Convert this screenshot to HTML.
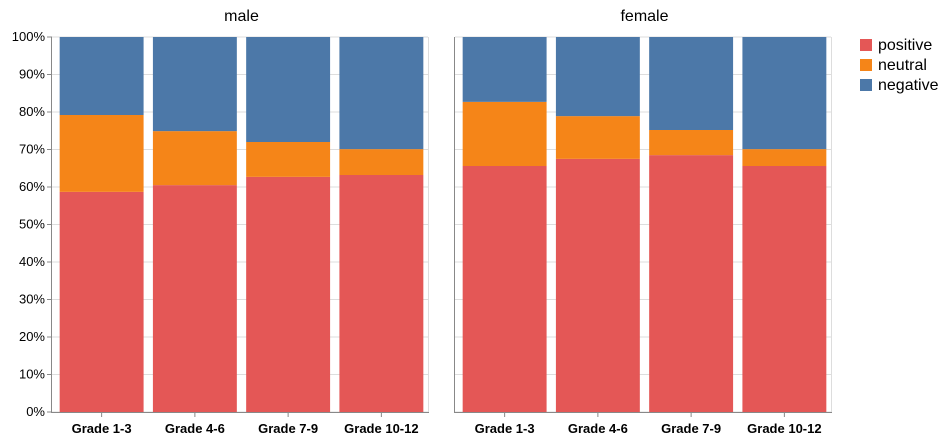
<!DOCTYPE html>
<html><head><meta charset="utf-8"><style>
body{margin:0;background:#fff;}
text{font-family:"Liberation Sans",Arial,sans-serif;}
</style></head><body>
<svg id="chart" width="951" height="442" xmlns="http://www.w3.org/2000/svg"></svg>
<script>
const categories=["Grade 1-3","Grade 4-6","Grade 7-9","Grade 10-12"];
const panels=["male","female"];
const malePositive=[58.7,60.5,62.7,63.2];
const maleNeutral=[20.5,14.4,9.3,6.9];
const femalePositive=[65.6,67.5,68.5,65.6];
const femaleNeutral=[17.1,11.4,6.7,4.5];
const yTicks=[0,10,20,30,40,50,60,70,80,90,100];
const seriesNames=["positive","neutral","negative"];
const colors={positive:"#e45756",neutral:"#f58518",negative:"#4c78a8"};

const NS="http://www.w3.org/2000/svg";
const svg=document.getElementById('chart');
function mk(tag,attrs,parent){const e=document.createElementNS(NS,tag);for(const k in attrs)e.setAttribute(k,attrs[k]);(parent||svg).appendChild(e);return e;}
const y0=412,y1=37,panelW=373,panelX=[55,458];
function y(v){return y0-(v/100)*(y0-y1);}
function xBand(p,i){return panelX[p]+i*panelW/categories.length;}
const data=[[malePositive,maleNeutral],[femalePositive,femaleNeutral]];

panels.forEach((name,p)=>{
  const g=mk('g',{});
  
  
  yTicks.forEach(t=>{
    const l=mk('line',{x1:panelX[p]-3,x2:panelX[p]+panelW,y1:y(t),y2:y(t),stroke:'#ddd','stroke-width':1},g);
    
    
  });
  const bw=panelW/categories.length;
  categories.forEach((c,i)=>{
    const pos=data[p][0][i],neu=data[p][1][i];
    const segs=[["positive",0,pos],["neutral",pos,pos+neu],["negative",pos+neu,100]];
    segs.forEach(s=>{
      const r=mk('rect',{x:xBand(p,i)+bw*0.05,width:bw*0.9,y:y(s[2]),height:y(s[1])-y(s[2]),fill:colors[s[0]]},g);
      
      
    });
    const t=mk('text',{x:xBand(p,i)+bw/2,y:433,'text-anchor':'middle','font-size':13,'font-weight':'bold',fill:'#000'},g);
    t.textContent=c;
    
    
    const tk=mk('line',{x1:xBand(p,i)+bw/2,x2:xBand(p,i)+bw/2,y1:y0,y2:y0+5,stroke:'#888'},g);
    
    
  });
  const ax=mk('line',{x1:panelX[p]-4,x2:panelX[p]+panelW+1,y1:y0+0.5,y2:y0+0.5,stroke:'#888'},g);
  
  
  const ax2=mk('line',{x1:panelX[p]-3.5,x2:panelX[p]-3.5,y1:y1,y2:y0,stroke:'#888'},g);
  
  
  const ax3=mk('line',{x1:panelX[p]+panelW+0.5,x2:panelX[p]+panelW+0.5,y1:y1,y2:y0,stroke:'#ddd'},g);
  
  
  const ti=mk('text',{x:panelX[p]+panelW/2,y:21,'text-anchor':'middle','font-size':16,fill:'#000'},g);
  ti.textContent=name;
  
  
});
yTicks.forEach(t=>{
  const tx=mk('text',{x:45,y:y(t)+4,'text-anchor':'end','font-size':13,fill:'#000'});
  tx.textContent=t+'%';
  
  
  const tk=mk('line',{x1:47,x2:52,y1:y(t),y2:y(t),stroke:'#888'});
  
  
});
seriesNames.forEach((s,i)=>{
  const r=mk('rect',{x:860,y:39+i*20,width:12,height:12,fill:colors[s]});
  
  
  const t=mk('text',{x:878,y:50+i*20,'font-size':16,fill:'#000'});
  t.textContent=s;
  
  
});
</script>
</body></html>
